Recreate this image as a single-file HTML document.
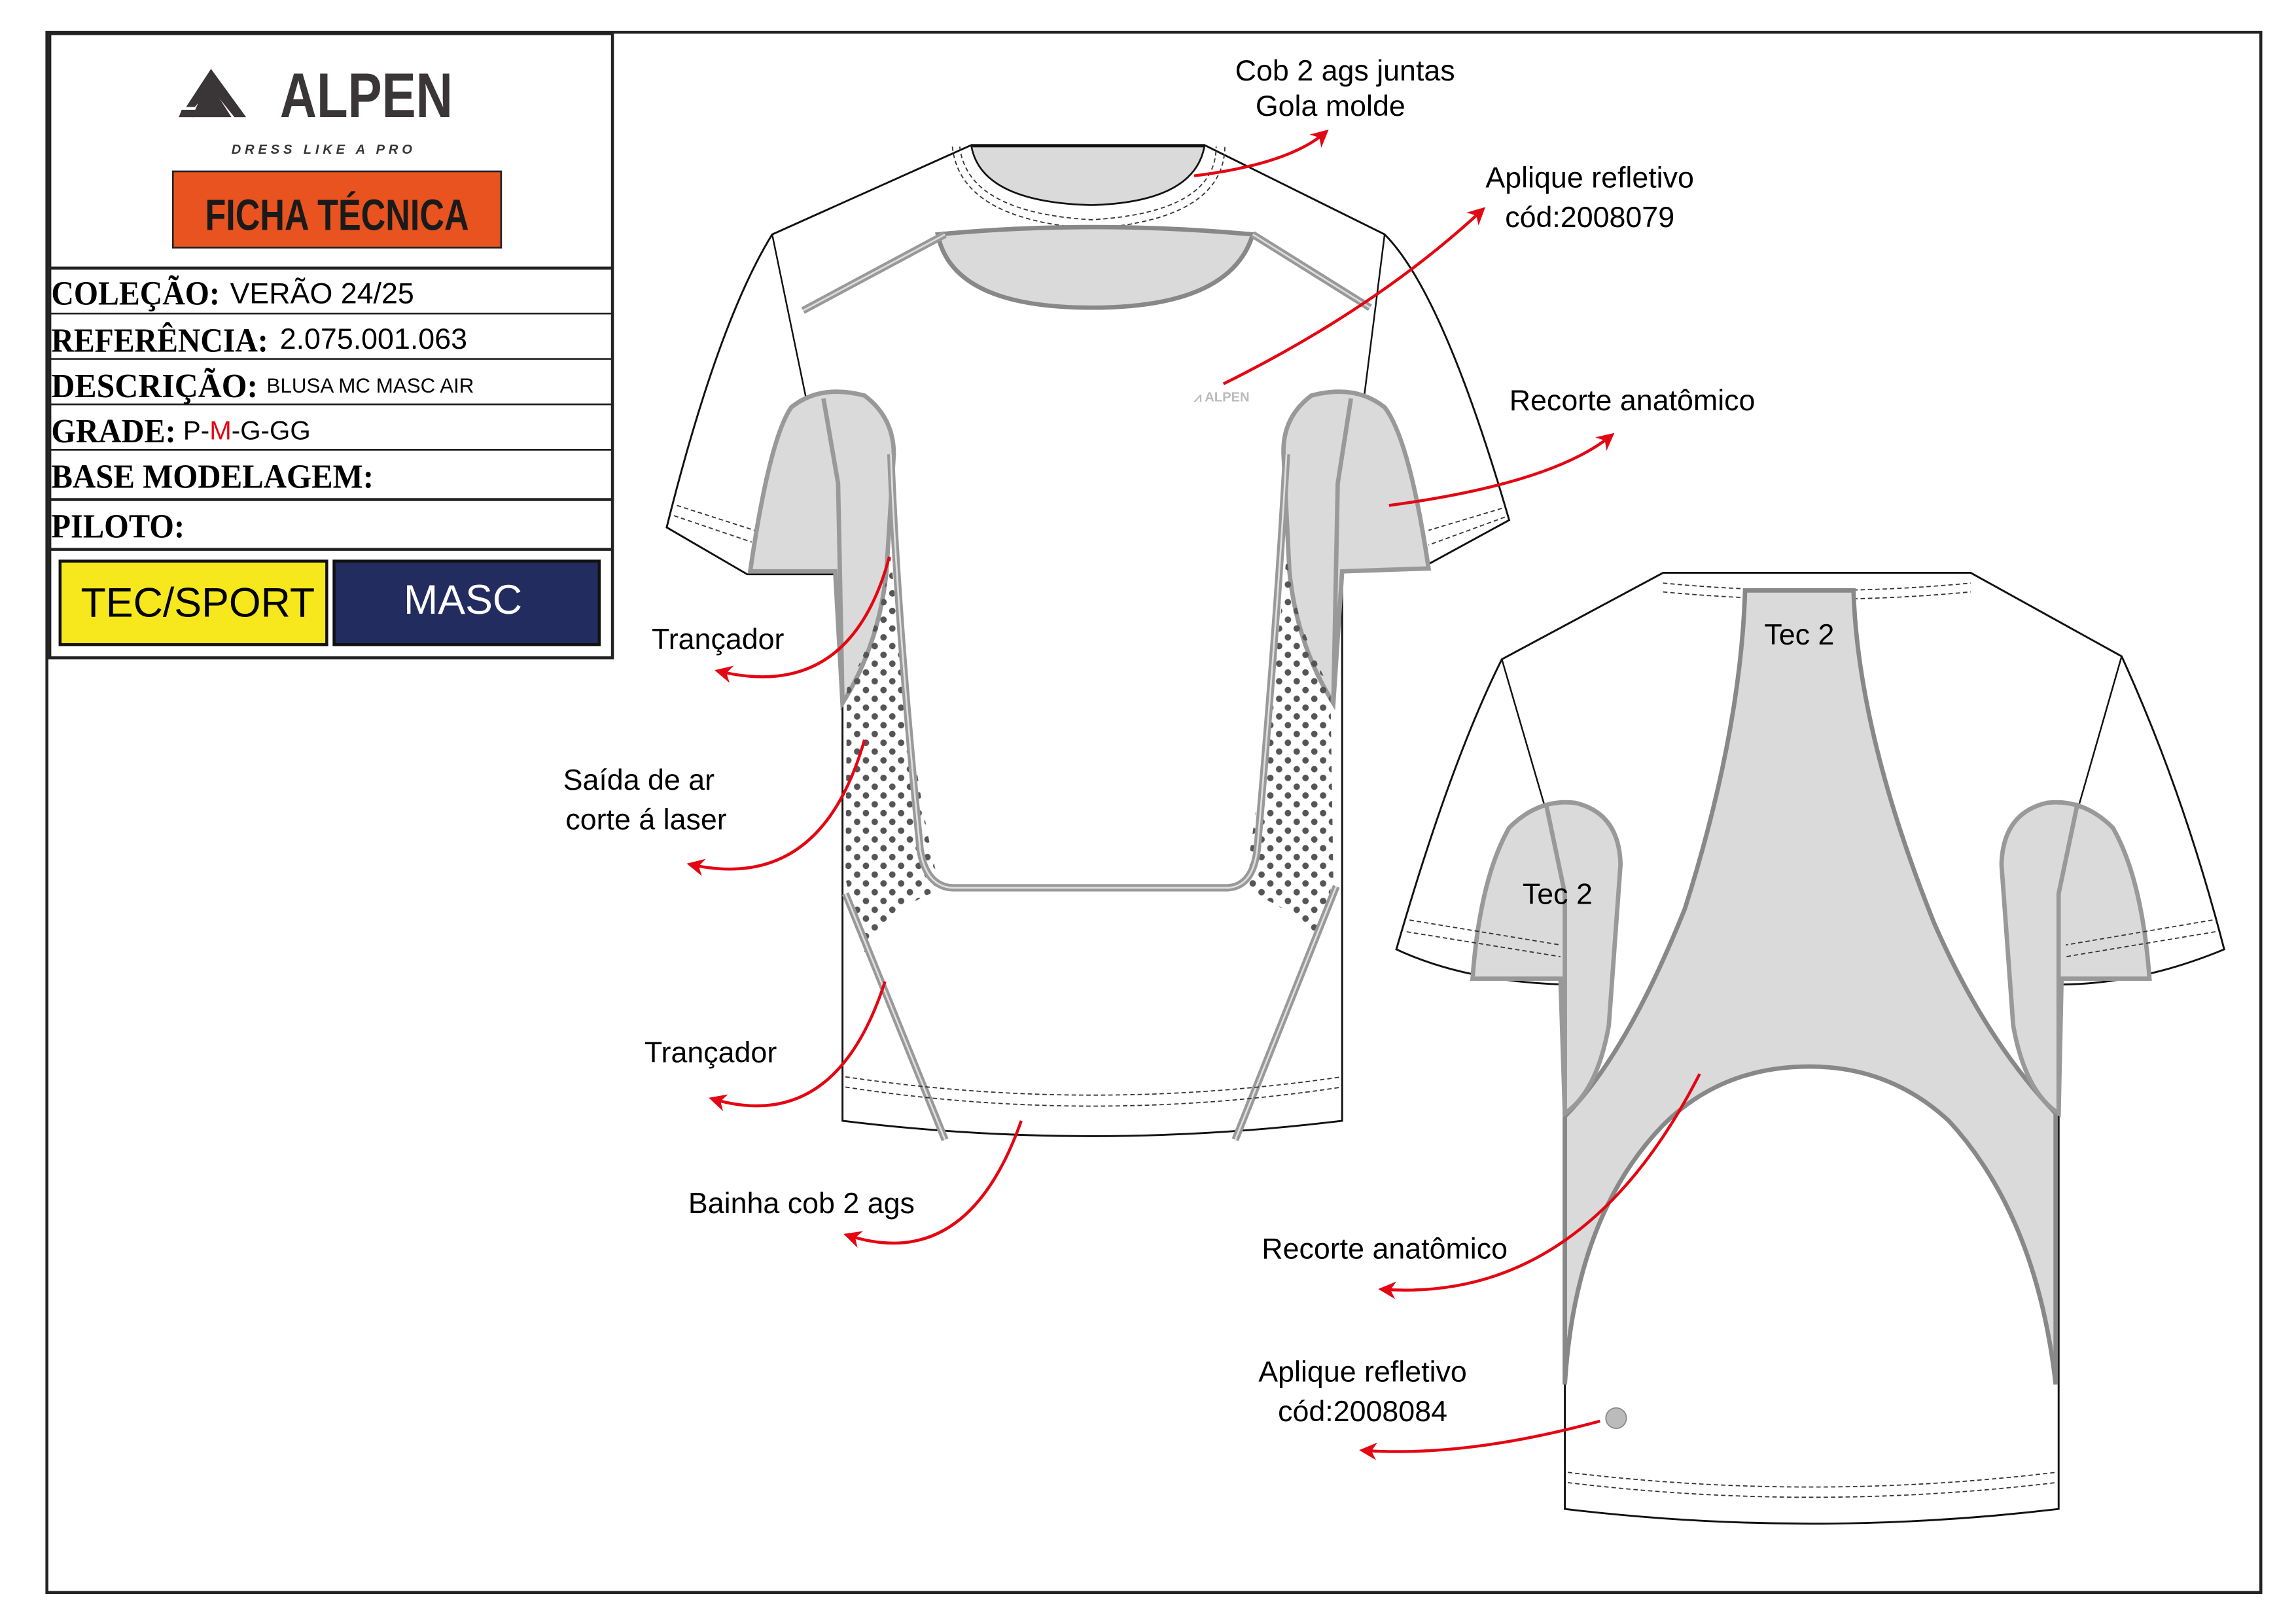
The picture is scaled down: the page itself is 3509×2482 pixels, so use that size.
<!DOCTYPE html>
<html><head><meta charset="utf-8"><style>
html,body{margin:0;padding:0;background:#fff}
svg{display:block}
.s{font-family:"Liberation Sans",sans-serif}
.b{font-family:"Liberation Serif",serif;font-weight:bold}
</style></head><body>
<svg width="3509" height="2482" viewBox="0 0 1567 1108.5" preserveAspectRatio="none" xmlns="http://www.w3.org/2000/svg">
<defs>
<pattern id="dots" x="0" y="0" width="12" height="12" patternUnits="userSpaceOnUse">
<circle cx="3" cy="3" r="2.2" fill="#555"/><circle cx="9" cy="9" r="2.2" fill="#555"/>
</pattern>
<marker id="ah" viewBox="0 0 10 10" refX="8" refY="5" markerWidth="6" markerHeight="6" orient="auto">
<path d="M0,0 L10,5 L0,10 L3,5 z" fill="#e30613"/></marker>
</defs>
<rect x="32" y="22" width="1511" height="1065" fill="none" stroke="#222" stroke-width="2"/>
<rect x="34" y="23" width="384" height="426" fill="none" stroke="#222" stroke-width="2"/>
<g stroke="#222" stroke-width="1.2">
<line x1="34" y1="183" x2="418" y2="183" stroke-width="2"/>
<line x1="34" y1="214" x2="418" y2="214"/>
<line x1="34" y1="245" x2="418" y2="245"/>
<line x1="34" y1="276" x2="418" y2="276"/>
<line x1="34" y1="307" x2="418" y2="307"/>
<line x1="34" y1="341" x2="418" y2="341" stroke-width="2"/>
<line x1="34" y1="375" x2="418" y2="375" stroke-width="2"/>
</g>
<g fill="#3a3537">
<path d="M144,47 L168,80 L160,80 L144,60 L133,73 L127,73 Z"/>
<path d="M142,55 L158,80 L131,80 Z"/>
<path d="M124,75 L135,75 L132,80 L122,80 Z"/>
</g>
<text class="s" x="191" y="80" font-size="43" font-weight="bold" fill="#3a3537" textLength="118" lengthAdjust="spacingAndGlyphs">ALPEN</text>
<text class="s" x="158" y="105" font-size="9" font-weight="bold" font-style="italic" fill="#3a3537" letter-spacing="2.6">DRESS LIKE A PRO</text>
<rect x="118" y="117" width="224" height="52" fill="#e8531f" stroke="#222" stroke-width="1.2"/>
<text class="s" x="230" y="157" font-size="30" font-weight="bold" text-anchor="middle" fill="#1a1a1a" textLength="180" lengthAdjust="spacingAndGlyphs">FICHA TÉCNICA</text>
<g font-size="23" fill="#000">
<text class="b" x="35" y="208" textLength="115" lengthAdjust="spacingAndGlyphs">COLEÇÃO:</text>
<text class="b" x="35" y="240" textLength="148" lengthAdjust="spacingAndGlyphs">REFERÊNCIA:</text>
<text class="b" x="35" y="271" textLength="141" lengthAdjust="spacingAndGlyphs">DESCRIÇÃO:</text>
<text class="b" x="35" y="302" textLength="85" lengthAdjust="spacingAndGlyphs">GRADE:</text>
<text class="b" x="35" y="333" textLength="220" lengthAdjust="spacingAndGlyphs">BASE MODELAGEM:</text>
<text class="b" x="35" y="367" textLength="91" lengthAdjust="spacingAndGlyphs">PILOTO:</text>
</g>
<text class="s" x="157" y="207" font-size="20">VERÃO 24/25</text>
<text class="s" x="191" y="238" font-size="20">2.075.001.063</text>
<text class="s" x="182" y="268" font-size="14">BLUSA MC MASC AIR</text>
<text class="s" x="125" y="300" font-size="18">P-<tspan fill="#e30613">M</tspan>-G-GG</text>
<rect x="41" y="383" width="182" height="57" fill="#f6e81c" stroke="#111" stroke-width="2"/>
<text class="s" x="135" y="421" font-size="28" text-anchor="middle">TEC/SPORT</text>
<rect x="228" y="383" width="181" height="57" fill="#232c5e" stroke="#111" stroke-width="2"/>
<text class="s" x="316" y="419" font-size="28" text-anchor="middle" fill="#fff">MASC</text>

<path d="M663,99 L822,99 L945,160 Q985,200 1030,355 L975,385 L916,390 L916,740 L916,765 Q745,786 575,765 L575,392 L510,392 L455,360 Q490,220 527,160 Z" fill="#fff" stroke="#111" stroke-width="1.3"/>
<path d="M663,100 L822,100 Q815,138 745,140 Q670,138 663,100 Z" fill="#dadada" stroke="#111" stroke-width="1.2"/>
<path d="M655,100 Q660,145 745,150 Q830,145 830,100" fill="none" stroke="#333" stroke-width="0.8" stroke-dasharray="3,2"/>
<path d="M650,100 Q655,150 745,156 Q835,150 836,100" fill="none" stroke="#333" stroke-width="0.8" stroke-dasharray="3,2"/>
<path d="M640,160 Q745,150 855,160 Q840,210 745,210 Q650,210 640,160 Z" fill="#dadada" stroke="#888" stroke-width="3"/>
<path d="M548,212 L645,160 M855,160 L935,210" stroke="#999" stroke-width="5" fill="none"/>
<path d="M548,212 L645,160 M855,160 L935,210" stroke="#ddd" stroke-width="1.2" fill="none"/>
<path d="M527,160 L575,392 M945,160 L916,390" stroke="#111" stroke-width="1.1" fill="none"/>
<path d="M462,345 L515,362 M460,352 L513,370" stroke="#333" stroke-width="0.8" stroke-dasharray="3,2" fill="none"/>
<path d="M1025,347 L975,362 M1027,353 L975,372" stroke="#333" stroke-width="0.8" stroke-dasharray="3,2" fill="none"/>
<path d="M512,390 Q525,300 540,278 Q560,262 590,270 Q610,285 610,310 L605,390 Q600,440 575,480 L570,390 Z" fill="#dadada" stroke="#999" stroke-width="3"/>
<path d="M975,388 Q962,300 945,278 Q925,262 895,270 Q875,285 876,310 L880,390 Q885,440 910,480 L916,390 Z" fill="#dadada" stroke="#999" stroke-width="3"/>
<path d="M562,272 L572,330 L575,480 M922,272 L913,330 L910,480" stroke="#999" stroke-width="3" fill="none"/>
<path d="M578,470 Q600,430 608,380 L612,420 Q625,540 640,600 L635,610 Q610,620 590,650 L577,600 Z" fill="url(#dots)"/>
<path d="M908,470 Q885,430 878,380 L874,420 Q860,540 850,600 L855,610 Q880,620 900,640 L910,600 Z" fill="url(#dots)"/>
<path d="M608,310 Q612,420 628,580 Q632,605 650,606 L838,606 Q855,605 858,580 Q872,420 878,310" fill="none" stroke="#999" stroke-width="5"/>
<path d="M608,310 Q612,420 628,580 Q632,605 650,606 L838,606 Q855,605 858,580 Q872,420 878,310" fill="none" stroke="#e0e0e0" stroke-width="1.2"/>
<path d="M577,610 L645,778 M912,605 L843,778" stroke="#999" stroke-width="5" fill="none"/>
<path d="M577,610 L645,778 M912,605 L843,778" stroke="#e0e0e0" stroke-width="1.2" fill="none"/>
<path d="M577,735 Q745,760 916,735 M577,742 Q745,768 916,742" stroke="#333" stroke-width="0.8" stroke-dasharray="3,2" fill="none"/>
<text class="s" x="815" y="274" font-size="9" fill="#bbb" font-weight="bold">⩘ ALPEN</text>

<path d="M1135,391 L1345,391 L1448,448 Q1490,540 1518,648 Q1460,672 1405,672 L1405,1030 Q1236,1050 1068,1030 L1068,672 Q1000,670 953,648 Q990,520 1025,450 Z" fill="#fff" stroke="#111" stroke-width="1.3"/>
<path d="M1135,398 Q1240,408 1345,398 M1135,404 Q1240,414 1345,404" stroke="#333" stroke-width="0.8" stroke-dasharray="3,2" fill="none"/>
<path d="M1191,403 L1265,403 Q1268,500 1320,630 Q1355,710 1403,760 L1403,945 Q1390,830 1330,765 Q1290,728 1235,728 Q1175,728 1135,768 Q1075,830 1068,945 L1068,762 Q1110,720 1150,620 Q1188,500 1191,403 Z" fill="#dadada" stroke="#888" stroke-width="3"/>
<path d="M1068,760 L1068,945 M1403,760 L1403,945" stroke="#888" stroke-width="3"/>
<path d="M1025,450 L1060,570 M1448,448 L1413,570" stroke="#111" stroke-width="1.1" fill="none"/>
<path d="M1005,668 Q1010,600 1030,565 Q1050,545 1075,548 Q1105,555 1106,590 L1098,700 Q1090,745 1068,760 L1065,668 Z" fill="#dadada" stroke="#999" stroke-width="3"/>
<path d="M1467,668 Q1462,600 1442,565 Q1422,545 1397,548 Q1367,555 1366,590 L1374,700 Q1382,745 1405,760 L1407,668 Z" fill="#dadada" stroke="#999" stroke-width="3"/>
<path d="M1055,548 L1068,610 L1068,760 M1418,548 L1405,610 L1405,760" stroke="#999" stroke-width="3" fill="none"/>
<path d="M962,628 L1065,645 M960,636 L1065,653 M1510,628 L1410,645 M1512,636 L1410,653" stroke="#333" stroke-width="0.8" stroke-dasharray="3,2" fill="none"/>
<path d="M1070,1005 Q1236,1025 1403,1005 M1070,1012 Q1236,1032 1403,1012" stroke="#333" stroke-width="0.8" stroke-dasharray="3,2" fill="none"/>
<circle cx="1103" cy="968" r="7" fill="#bbb" stroke="#888" stroke-width="0.8"/>

<g fill="none" stroke="#e30613" stroke-width="2" marker-end="url(#ah)">
<path d="M815,120 Q880,112 905,90"/>
<path d="M835,262 Q940,210 1012,143"/>
<path d="M948,345 Q1060,330 1100,297"/>
<path d="M607,380 Q580,480 490,458"/>
<path d="M590,505 Q560,610 471,590"/>
<path d="M604,670 Q570,775 486,750"/>
<path d="M697,765 Q660,870 578,843"/>
<path d="M1160,733 Q1080,890 943,880"/>
<path d="M1092,970 Q1000,995 930,990"/>
</g>
<g class="s" font-size="20" fill="#000" text-anchor="middle">
<text x="918" y="55">Cob 2 ags juntas</text>
<text x="908" y="79">Gola molde</text>
<text x="1085" y="128">Aplique refletivo</text>
<text x="1085" y="155">cód:2008079</text>
<text x="1114" y="280">Recorte anatômico</text>
<text x="490" y="443">Trançador</text>
<text x="436" y="539">Saída de ar</text>
<text x="441" y="566">corte á laser</text>
<text x="485" y="725">Trançador</text>
<text x="547" y="828">Bainha cob 2 ags</text>
<text x="1228" y="440">Tec 2</text>
<text x="1063" y="617">Tec 2</text>
<text x="945" y="859">Recorte anatômico</text>
<text x="930" y="943">Aplique refletivo</text>
<text x="930" y="970">cód:2008084</text>
</g>
</svg>
</body></html>
